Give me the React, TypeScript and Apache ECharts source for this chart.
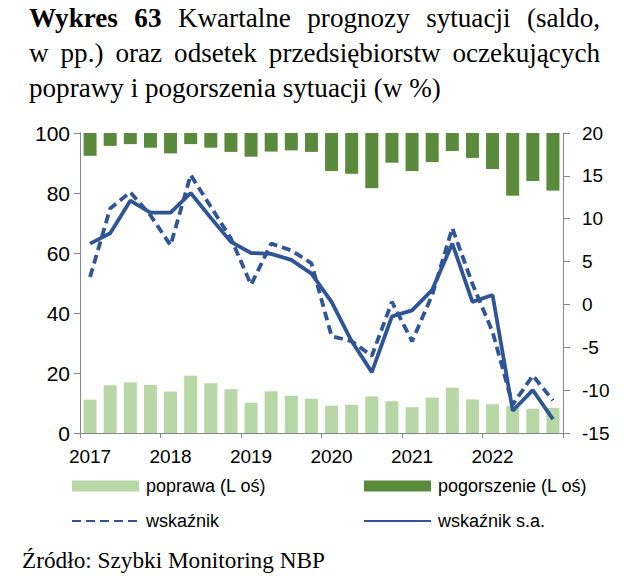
import React, { useEffect, useRef } from "react";
import * as echarts from "echarts";

// ---- data ----
const QUARTERS = [
  "2017 Q1", "2017 Q2", "2017 Q3", "2017 Q4",
  "2018 Q1", "2018 Q2", "2018 Q3", "2018 Q4",
  "2019 Q1", "2019 Q2", "2019 Q3", "2019 Q4",
  "2020 Q1", "2020 Q2", "2020 Q3", "2020 Q4",
  "2021 Q1", "2021 Q2", "2021 Q3", "2021 Q4",
  "2022 Q1", "2022 Q2", "2022 Q3", "2022 Q4",
];
const POPRAWA = [11.1, 15.9, 16.9, 16.0, 13.8, 19.1, 16.6, 14.6, 10.1, 13.9, 12.4, 11.4, 9.1, 9.4, 12.2, 10.6, 8.6, 11.8, 15.1, 11.2, 9.6, 8.9, 8.1, 8.4];
const POGORSZENIE = [7.6, 4.3, 3.7, 4.9, 6.8, 3.7, 4.9, 6.3, 7.9, 6.2, 5.8, 6.3, 12.7, 13.6, 18.4, 9.9, 12.7, 9.7, 6.0, 8.3, 12.0, 20.9, 16.0, 19.2];
const WSKAZNIK = [3.2, 11.2, 13.1, 10.4, 6.9, 15.1, 11.4, 7.7, 2.3, 7.1, 6.3, 4.8, -3.7, -4.3, -6.0, 0.3, -4.3, 1.1, 8.9, 2.4, -3.2, -11.7, -8.3, -11.2];
const WSKAZNIK_SA = [7.1, 8.3, 12.1, 10.7, 10.7, 13.0, 10.1, 7.3, 6.0, 5.9, 5.2, 3.6, 0.3, -4.3, -7.9, -1.4, -0.7, 1.7, 7.1, 0.3, 1.1, -12.4, -10.0, -13.4];

const SERIES_NAMES = ["poprawa (L oś)", "pogorszenie (L oś)", "wskaźnik", "wskaźnik s.a."];

const TITLE_LINE1 = [
  { t: "Wykres", b: true }, { t: "63", b: true }, { t: "Kwartalne", b: false },
  { t: "prognozy", b: false }, { t: "sytuacji", b: false }, { t: "(saldo,", b: false },
];
const TITLE_LINE2 = ["w", "pp.)", "oraz", "odsetek", "przedsiębiorstw", "oczekujących"];
const TITLE_LINE3 = "poprawy i pogorszenia sytuacji (w %)";
const SOURCE = "Źródło: Szybki Monitoring NBP";

// ---- styles ----
const SERIF = "'Liberation Serif', 'Times New Roman', serif";
const SANS = "'Liberation Sans', Arial, sans-serif";
const GRAY = "#868686";
const LIGHT_GREEN = "#b8d7a6";
const DARK_GREEN = "#5a8a3c";
const BLUE = "#2f5597";

function measure(text: string, font: string): number {
  const ctx = document.createElement("canvas").getContext("2d");
  if (!ctx) return text.length * 10;
  ctx.font = font;
  return ctx.measureText(text).width;
}

function buildTexts(): any[] {
  const base = 22;
  const fs = (base * 412) / measure(TITLE_LINE3, `${base}px ${SERIF}`);
  const mid = 0.3375 * fs;
  const els: any[] = [];
  const justified = (words: { t: string; b: boolean }[], baseline: number) => {
    const widths = words.map((w) => measure(w.t, `${w.b ? "bold " : ""}${fs}px ${SERIF}`));
    const total = widths.reduce((a, c) => a + c, 0);
    const gap = (600 - 29 - total) / (words.length - 1);
    let x = 29;
    words.forEach((w, i) => {
      els.push({
        type: "text", x, y: baseline - mid,
        style: { text: w.t, fontFamily: SERIF, fontSize: fs, fontWeight: w.b ? "bold" : "normal", fill: "#000", align: "left", verticalAlign: "middle" },
      });
      x += widths[i] + gap;
    });
  };
  justified(TITLE_LINE1, 26.7);
  justified(TITLE_LINE2.map((t) => ({ t, b: false })), 61.7);
  els.push({
    type: "text", x: 29, y: 96.7 - mid,
    style: { text: TITLE_LINE3, fontFamily: SERIF, fontSize: fs, fill: "#000", align: "left", verticalAlign: "middle" },
  });
  const sfs = (base * 303) / measure(SOURCE, `${base}px ${SERIF}`);
  els.push({
    type: "text", x: 22, y: 568 - 0.3375 * sfs,
    style: { text: SOURCE, fontFamily: SERIF, fontSize: sfs, fill: "#000", align: "left", verticalAlign: "middle" },
  });
  return els;
}

export default function App() {
  const ref = useRef<HTMLDivElement>(null);
  useEffect(() => {
    if (!ref.current) return;
    const chart = echarts.init(ref.current, undefined, { renderer: "svg" });
    const hiddenSymbol = { color: "rgba(0,0,0,0)", borderColor: "rgba(0,0,0,0)", borderWidth: 0 };
    const legendCommon = {
      orient: "vertical",
      top: 476,
      padding: 0,
      itemWidth: 67,
      itemHeight: 11,
      itemGap: 15,
      selectedMode: false,
      textStyle: { fontFamily: SANS, fontSize: 18, color: "#000", lineHeight: 20, padding: [0, 0, 0, 2] },
    };
    const option: any = {
      animation: false,
      backgroundColor: "#fff",
      grid: { left: 80, right: 61, top: 133, bottom: 145 },
      legend: [
        {
          ...legendCommon, left: 71,
          data: [{ name: SERIES_NAMES[0], icon: "rect" }, { name: SERIES_NAMES[2], itemStyle: hiddenSymbol }],
        },
        {
          ...legendCommon, left: 363,
          data: [{ name: SERIES_NAMES[1], icon: "rect" }, { name: SERIES_NAMES[3], itemStyle: hiddenSymbol }],
        },
      ],
      xAxis: {
        type: "category",
        data: QUARTERS,
        boundaryGap: true,
        axisLine: { show: true, lineStyle: { color: GRAY, width: 1 } },
        axisTick: { show: true, interval: 3, length: 5, alignWithLabel: false, lineStyle: { color: GRAY } },
        axisLabel: {
          interval: 3,
          formatter: (v: string) => v.slice(0, 4),
          fontFamily: SANS, fontSize: 19, color: "#000", margin: 14,
        },
        splitLine: { show: false },
      },
      yAxis: [
        {
          type: "value", position: "left", min: 0, max: 100, interval: 20,
          axisLine: { show: true, lineStyle: { color: GRAY } },
          axisTick: { show: true, length: 6, lineStyle: { color: GRAY } },
          axisLabel: { fontFamily: SANS, fontSize: 21, color: "#000", margin: 10 },
          splitLine: { show: false },
        },
        {
          type: "value", position: "right", min: -15, max: 20, interval: 5,
          axisLine: { show: true, lineStyle: { color: GRAY } },
          axisTick: { show: true, length: 7, lineStyle: { color: GRAY } },
          axisLabel: { fontFamily: SANS, fontSize: 19, color: "#000", margin: 19 },
          splitLine: { show: false },
        },
        {
          type: "value", position: "left", min: 0, max: 100, inverse: true, show: false,
          splitLine: { show: false },
        },
      ],
      series: [
        {
          name: SERIES_NAMES[0], type: "bar", xAxisIndex: 0, yAxisIndex: 0,
          data: POPRAWA, barWidth: 13, barGap: "-100%",
          itemStyle: { color: LIGHT_GREEN }, z: 2,
        },
        {
          name: SERIES_NAMES[1], type: "bar", xAxisIndex: 0, yAxisIndex: 2,
          data: POGORSZENIE, barWidth: 13, barGap: "-100%",
          itemStyle: { color: DARK_GREEN }, z: 2,
        },
        {
          name: SERIES_NAMES[2], type: "line", xAxisIndex: 0, yAxisIndex: 1,
          data: WSKAZNIK, symbol: "none",
          lineStyle: { color: BLUE, width: 3.8, type: [9, 5] },
          itemStyle: { color: BLUE }, z: 4,
        },
        {
          name: SERIES_NAMES[3], type: "line", xAxisIndex: 0, yAxisIndex: 1,
          data: WSKAZNIK_SA, symbol: "none",
          lineStyle: { color: BLUE, width: 3.8, type: "solid" },
          itemStyle: { color: BLUE }, z: 5,
        },
      ],
      graphic: buildTexts(),
    };
    chart.setOption(option);
    return () => chart.dispose();
  }, []);
  return (
    <div
      ref={ref}
      style={{ position: "fixed", left: 0, top: 0, width: 624, height: 578, background: "#fff" }}
    />
  );
}
